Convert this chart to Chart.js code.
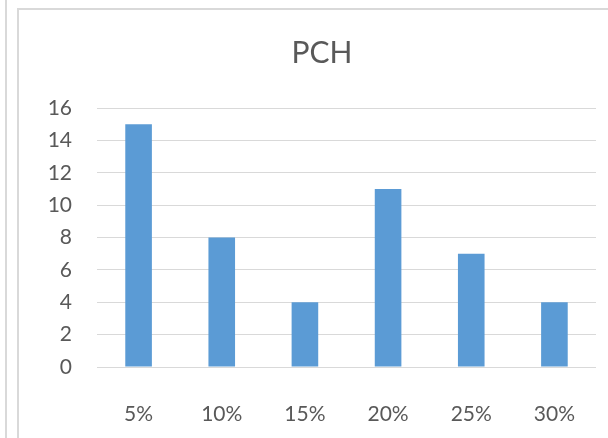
<!DOCTYPE html>
<html>
<head>
<meta charset="utf-8">
<script src="https://cdn.jsdelivr.net/npm/chart.js@4"></script>
<style>
    html, body { margin: 0; padding: 0; background: #fff; }
    #wrap { position: relative; width: 608px; height: 438px; overflow: hidden; }
    #chart { position: absolute; left: 0; top: 0; }
    .edge { position: absolute; background: #d9d9d9; pointer-events: none; }
</style>
</head>
<body>
<div id="wrap">
    <canvas id="chart" width="608" height="438"></canvas>
    <!-- frame of the neighbouring chart and of this one -->
    <div class="edge" style="left:5px; top:0; width:2px; height:438px;"></div>
    <div class="edge" style="left:17px; top:8px; width:2px; height:430px;"></div>
    <div class="edge" style="left:17px; top:8px; width:591px; height:2px;"></div>
</div>
<script>
const categories = ['5%', '10%', '15%', '20%', '25%', '30%'];
const values = [15, 8, 4, 11, 7, 4];
const yTicks = [0, 2, 4, 6, 8, 10, 12, 14, 16];

const textColor = '#595959';
const gridColor = '#d9d9d9';
const fontFamily = 'Lato, "Open Sans", sans-serif';

const ctx = document.getElementById('chart').getContext('2d');
new Chart(ctx, {
    type: 'bar',
    data: {
        labels: categories,
        datasets: [{
            data: values,
            backgroundColor: '#5b9bd5',
            borderWidth: 0,
            barPercentage: 0.32,
            categoryPercentage: 1
        }]
    },
    options: {
        responsive: false,
        animation: false,
        // title is centred over the whole frame, which runs past the right edge
        layout: { padding: { left: 36, right: 0, top: 0, bottom: 0 } },
        plugins: {
            legend: { display: false },
            tooltip: { enabled: false },
            title: {
                display: true,
                text: 'PCH',
                color: textColor,
                font: { family: fontFamily, size: 30, weight: 'normal' },
                padding: { top: 35, bottom: 37 }
            }
        },
        scales: {
            x: {
                grid: { display: false },
                border: { display: false },
                ticks: {
                    color: textColor,
                    font: { family: fontFamily, size: 21 },
                    padding: 27,
                    maxRotation: 0
                },
                afterFit: (scale) => { scale.height = 71; }
            },
            y: {
                min: yTicks[0],
                max: yTicks[yTicks.length - 1],
                afterBuildTicks: (scale) => { scale.ticks = yTicks.map(v => ({ value: v })); },
                grid: { color: gridColor, lineWidth: 1, drawTicks: false },
                border: { display: false },
                ticks: {
                    color: textColor,
                    font: { family: fontFamily, size: 21 },
                    padding: 25
                },
                afterFit: (scale) => { scale.width = 61; }
            },
            // empty right axis, only keeps a margin on the right
            yRight: {
                position: 'right',
                grid: { display: false },
                border: { display: false },
                ticks: { display: false },
                afterFit: (scale) => { scale.width = 12; }
            }
        }
    }
});
</script>
</body>
</html>
